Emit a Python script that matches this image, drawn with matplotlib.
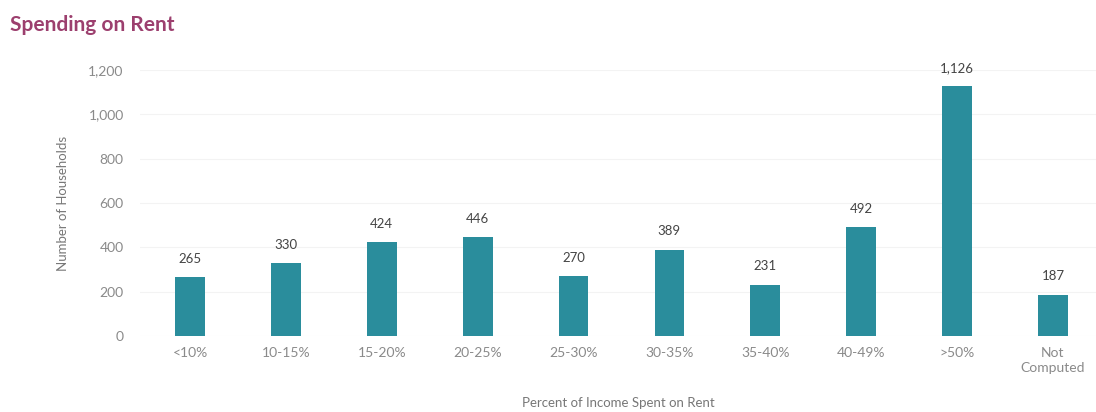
import matplotlib.pyplot as plt
import numpy as np

categories = ['<10%', '10-15%', '15-20%', '20-25%', '25-30%',
              '30-35%', '35-40%', '40-49%', '>50%', 'Not\nComputed']
households = [265, 330, 424, 446, 270, 389, 231, 492, 1126, 187]
yticks = [0, 200, 400, 600, 800, 1000, 1200]

plt.rcParams['font.family'] = ['Lato', 'DejaVu Sans']

fig = plt.figure(figsize=(10.96, 4.12), dpi=100)
ax = fig.add_axes([0.128, 0.184, 0.872, 0.646])

x = np.arange(len(categories))
ax.bar(x, households, width=0.31, color='#2a8d9c', zorder=2)

for xi, v in zip(x, households):
    ax.annotate(f'{v:,}', (xi, v), xytext=(0, 9), textcoords='offset points',
                ha='center', va='bottom', fontsize=9.5, color='#444444',
                clip_on=False)

ax.set_xlim(-0.52, 9.45)
ax.set_ylim(0, 1200)
ax.set_yticks(yticks)
ax.set_yticklabels([f'{t:,}' for t in yticks])
ax.set_xticks(x)
ax.set_xticklabels(categories, linespacing=1.3)
ax.tick_params(axis='both', length=0, colors='#8a8a8a', labelsize=10)
ax.tick_params(axis='y', pad=12)
ax.tick_params(axis='x', pad=8)
for s in ax.spines.values():
    s.set_visible(False)
ax.grid(axis='y', color='#f3f3f3', linewidth=0.8, zorder=0)

ax.set_ylabel('Number of Households', color='#777777', fontsize=9.5, labelpad=14)
ax.set_xlabel('Percent of Income Spent on Rent', color='#777777', fontsize=9.5,
              labelpad=16)

fig.text(0.009, 0.94, 'Spending on Rent', color='#9c3f6e', fontsize=15,
         fontweight='bold', ha='left', va='center')

fig.savefig('out.png', dpi=100)
